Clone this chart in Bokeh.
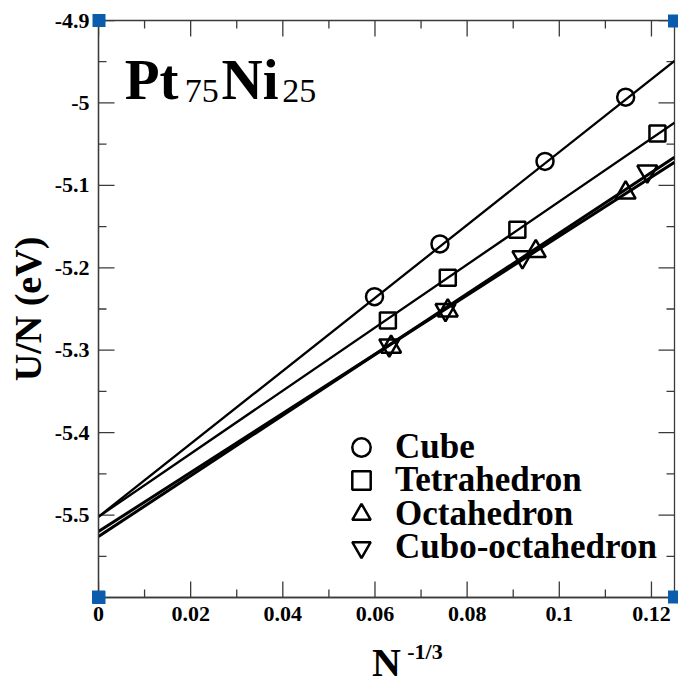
import math
from bokeh.plotting import figure
from bokeh.models import (Range1d, FixedTicker, LinearAxis, Legend, LegendItem, Label)
from bokeh.embed import file_html
from bokeh.resources import INLINE

# ---- data ----
series_names = ["Cube", "Tetrahedron", "Octahedron", "Cubo-octahedron"]

cube_x = [0.0599, 0.0741, 0.0969, 0.1144]
cube_y = [-5.235, -5.171, -5.071, -4.993]
tetra_x = [0.0628, 0.0758, 0.0909, 0.1213]
tetra_y = [-5.264, -5.212, -5.154, -5.037]
octa_x = [0.0635, 0.0758, 0.0949, 0.1144]
octa_y = [-5.296, -5.252, -5.180, -5.109]
cubo_x = [0.0631, 0.0753, 0.0920, 0.1191]
cubo_y = [-5.294, -5.251, -5.187, -5.083]

# fitted lines (end points read at x = 0 and x = 0.125)
fit_x = [0.0, 0.125]
cube_fit_y = [-5.502, -4.949]
tetra_fit_y = [-5.502, -5.024]
octa_fit_y = [-5.526, -5.066]
cubo_fit_y = [-5.520, -5.072]

x_ticks = [0.0, 0.02, 0.04, 0.06, 0.08, 0.1, 0.12]
x_tick_labels = ["0", "0.02", "0.04", "0.06", "0.08", "0.1", "0.12"]
x_minor = [0.01, 0.03, 0.05, 0.07, 0.09, 0.11]
y_ticks = [-5.5, -5.4, -5.3, -5.2, -5.1, -5.0, -4.9]
y_tick_labels = ["-5.5", "-5.4", "-5.3", "-5.2", "-5.1", "-5", "-4.9"]
y_minor = [-5.55, -5.45, -5.35, -5.25, -5.15, -5.05, -4.95]

x_range = (0.0, 0.125)
y_range = (-5.6, -4.9)

FONT = "Liberation Serif"
AXIS_COLOR = "#3a3a3a"
HANDLE_COLOR = "#0b5cad"

p = figure(frame_width=576, frame_height=577,
           min_border_left=98, min_border_right=4, min_border_top=20, min_border_bottom=60,
           x_range=Range1d(*x_range), y_range=Range1d(*y_range),
           output_backend="svg", toolbar_location=None, x_axis_location=None,
           y_axis_location=None)
p.grid.visible = False
p.outline_line_color = AXIS_COLOR
p.outline_line_width = 1.3
p.background_fill_color = "white"
p.border_fill_color = "white"

def label_axis(ax, ticks, labels, corners):
    # labels from the major ticks; the corner handles are drawn as the minor ticks
    ax.ticker = FixedTicker(ticks=ticks, minor_ticks=corners)
    ax.major_label_overrides = {t: l for t, l in zip(ticks, labels)}
    ax.axis_line_color = AXIS_COLOR
    ax.axis_line_width = 1.3
    ax.major_tick_line_alpha = 0
    ax.major_tick_in = 0
    ax.major_tick_out = 0
    ax.minor_tick_line_color = HANDLE_COLOR
    ax.minor_tick_line_width = 13
    ax.minor_tick_in = 7
    ax.minor_tick_out = 6
    ax.major_label_text_font = FONT
    ax.major_label_text_font_style = "bold"
    ax.major_label_text_font_size = "22px"
    ax.major_label_text_color = "black"
    ax.axis_label_text_font = FONT
    ax.axis_label_text_font_style = "bold"
    ax.axis_label_text_color = "black"

xb = LinearAxis()
label_axis(xb, x_ticks, x_tick_labels, [x_range[0], x_range[1]])
xb.major_label_standoff = 3
xb.axis_label = "N"
xb.axis_label_text_font_size = "40px"
xb.axis_label_standoff = 16
p.add_layout(xb, "below")

# superscript of the x axis label, as the label of a second, bare axis
xs = LinearAxis(ticker=FixedTicker(ticks=[]), axis_line_alpha=0,
                major_tick_line_alpha=0, minor_tick_line_alpha=0,
                major_tick_out=0, minor_tick_out=0, major_label_standoff=0,
                major_label_text_font_size="0px",
                axis_label="\u2003\u2003\u2003\u2002-1/3",
                axis_label_text_font=FONT, axis_label_text_font_style="bold",
                axis_label_text_font_size="22px", axis_label_text_color="black",
                axis_label_standoff=-49)
p.add_layout(xs, "below")

# top axis: only carries the top-right corner handle
xt = LinearAxis(ticker=FixedTicker(ticks=[], minor_ticks=[x_range[1]]),
                axis_line_alpha=0, major_tick_line_alpha=0, major_tick_out=0,
                major_label_standoff=0, major_label_text_font_size="0px",
                minor_tick_line_color=HANDLE_COLOR, minor_tick_line_width=13,
                minor_tick_in=7, minor_tick_out=6)
p.add_layout(xt, "above")

yl = LinearAxis()
label_axis(yl, y_ticks, y_tick_labels, [y_range[0], y_range[1]])
yl.major_label_standoff = 3
yl.axis_label = "U/N (eV)"
yl.axis_label_text_font_size = "38px"
yl.axis_label_standoff = 3
p.add_layout(yl, "left")

# inward tick marks on all four sides of the frame
tk = dict(line_color=AXIS_COLOR, line_width=1.3, length_units="screen")
for xs_, ln in ((x_ticks, 16), (x_minor, 8)):
    p.ray(x=xs_, y=[y_range[0]] * len(xs_), length=ln, angle=math.pi / 2, **tk)
    p.ray(x=xs_, y=[y_range[1]] * len(xs_), length=ln, angle=-math.pi / 2, **tk)
for ys_, ln in ((y_ticks, 16), (y_minor, 8)):
    p.ray(x=[x_range[0]] * len(ys_), y=ys_, length=ln, angle=0, **tk)
    p.ray(x=[x_range[1]] * len(ys_), y=ys_, length=ln, angle=math.pi, **tk)

# fit lines
p.line(fit_x, cube_fit_y, line_color="black", line_width=2.3)
p.line(fit_x, tetra_fit_y, line_color="black", line_width=2.3)
p.line(fit_x, octa_fit_y, line_color="black", line_width=3)
p.line(fit_x, cubo_fit_y, line_color="black", line_width=3)

mk = dict(fill_color="white", fill_alpha=0, line_color="black", line_width=2.5)
r_cube = p.scatter(cube_x, cube_y, marker="circle", size=17, **mk)
r_tetra = p.scatter(tetra_x, tetra_y, marker="square", size=16, **mk)
r_octa = p.scatter(octa_x, octa_y, marker="triangle", size=20, **mk)
r_cubo = p.scatter(cubo_x, cubo_y, marker="inverted_triangle", size=20, **mk)

# legend: one single-row legend per series so the rows can sit tightly
legend_offsets = [(240, 127), (240, 94), (240, 60.5), (240, 27)]
for name, r, loc in zip(series_names, [r_cube, r_tetra, r_octa, r_cubo], legend_offsets):
    p.add_layout(Legend(items=[LegendItem(label=name, renderers=[r])],
                        location=loc, orientation="vertical",
                        glyph_width=46, glyph_height=46, label_standoff=11,
                        padding=0, margin=0, spacing=0,
                        border_line_alpha=0, background_fill_alpha=0,
                        label_text_font=FONT, label_text_font_style="bold",
                        label_text_font_size="35px", label_text_color="black"),
                 "center")

# title Pt75Ni25
lab = dict(x_units="data", y_units="data", text_font=FONT, text_color="black",
           text_baseline="middle", text_align="left")
p.add_layout(Label(x=0.0057, y=-4.972, text="Pt", text_font_size="57px",
                   text_font_style="bold", **lab))
p.add_layout(Label(x=0.0187, y=-4.9859, text="75", text_font_size="34px", **lab))
p.add_layout(Label(x=0.0267, y=-4.972, text="Ni", text_font_size="57px",
                   text_font_style="bold", **lab))
p.add_layout(Label(x=0.0399, y=-4.9859, text="25", text_font_size="34px", **lab))

open("out.html", "w").write(file_html(p, INLINE))
